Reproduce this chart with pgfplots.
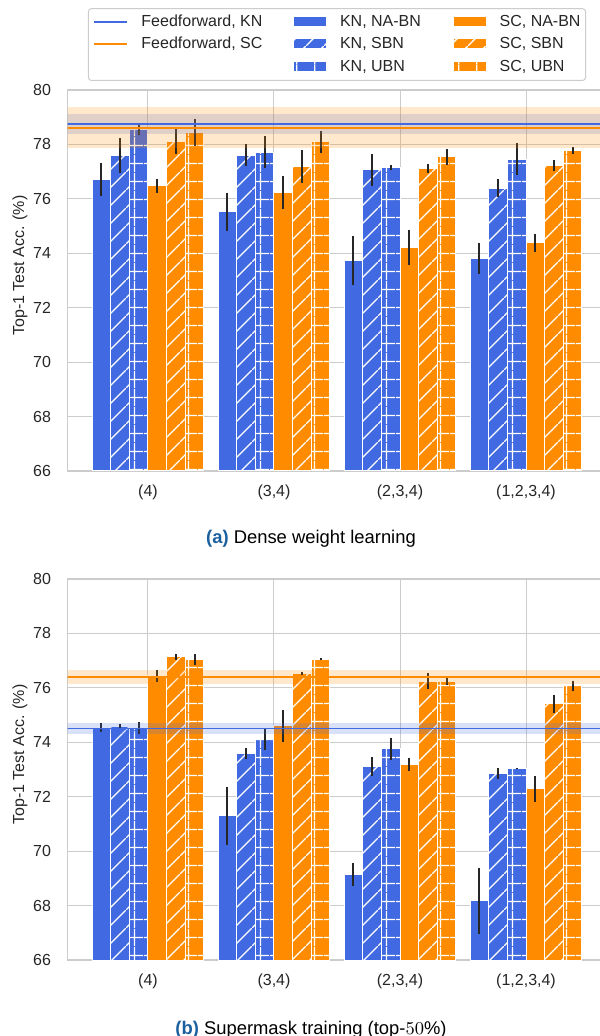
\documentclass[border=0pt]{standalone}
\usepackage{fontspec}
\setmainfont{Liberation Sans}
\usepackage{pgfplots}
\pgfplotsset{compat=1.18}
\usepackage{pgfplotstable}
\usetikzlibrary{patterns.meta}

\definecolor{kn}{RGB}{65,105,225}
\definecolor{sc}{RGB}{255,140,0}
\definecolor{gridgray}{RGB}{204,204,204}
\definecolor{txt}{RGB}{38,38,38}
\definecolor{caplabel}{RGB}{26,95,158}

% hatch patterns for the batch-norm variants
\tikzdeclarepattern{
  name=slashes, type=uncolored,
  bottom left={(0pt,0pt)}, top right={(9pt,9pt)}, tile size={(9pt,9pt)},
  code={\draw[line width=0.7pt] (-1pt,-1pt) -- (10pt,10pt);}
}
\tikzdeclarepattern{
  name=crosses, type=uncolored,
  bottom left={(0pt,0pt)}, top right={(9pt,9pt)}, tile size={(9pt,9pt)},
  code={\draw[line width=0.7pt] (0pt,4.5pt) -- (9pt,4.5pt) (4.5pt,0pt) -- (4.5pt,9pt);}
}

% accuracy (mean, std) per configuration
\pgfplotstableread{
x knna knnae knsbn knsbne knubn knubne scna scnae scsbn scsbne scubn scubne
0 76.72 0.61 77.59 0.64 78.53 0.17 76.48 0.26 78.10 0.46 78.43 0.50
1 75.52 0.69 77.61 0.42 77.71 0.59 76.23 0.60 77.18 0.61 78.09 0.41
2 73.73 0.90 77.06 0.58 77.15 0.09 74.22 0.65 77.12 0.17 77.54 0.30
3 73.81 0.56 76.39 0.33 77.46 0.58 74.39 0.33 77.23 0.20 77.77 0.13
}\densetab

\pgfplotstableread{
x knna knnae knsbn knsbne knubn knubne scna scnae scsbn scsbne scubn scubne
0 74.54 0.18 74.58 0.10 74.51 0.22 76.44 0.23 77.15 0.11 77.05 0.21
1 71.30 1.07 73.59 0.19 74.10 0.39 74.60 0.58 76.52 0.06 77.05 0.03
2 69.13 0.42 73.12 0.35 73.76 0.40 73.18 0.23 76.25 0.31 76.25 0.13
3 68.17 1.22 72.85 0.21 73.04 0.03 72.29 0.47 75.42 0.33 76.07 0.20
}\masktab

\pgfplotsset{
  panel/.style={
    scale only axis, width=269.3pt, height=190.5pt,
    xmin=-0.637, xmax=3.637, ymin=66, ymax=80,
    xtick={0,1,2,3}, xticklabels={(4),(3,4),(2,3,4),(1,2,3,4)},
    ytick={66,68,...,80},
    grid=major, grid style={gridgray, line width=0.5pt},
    axis line style={gridgray, line width=0.6pt},
    major tick length=0pt,
    tick label style={font=\fontsize{8}{9.6}\selectfont, text=txt},
    /pgf/number format/assume math mode=true,
    yticklabel style={xshift=-4.8pt},
    xticklabel style={yshift=-3.6pt},
    ylabel={Top-1 Test Acc. (\%)},
    every axis y label/.style={at={([xshift=-23.85pt]axis description cs:0,0.539)},
      rotate=90, anchor=center, font=\fontsize{8}{9.6}\selectfont, text=txt},
  },
  barbase/.style={ybar, bar width=0.148, bar shift=0pt, draw=white, line width=0.5pt, forget plot,
    error bars/y dir=both, error bars/y explicit, error bars/error mark=none,
    error bars/error bar style={line width=1pt, black!85}},
  band/.style={draw=none, fill=#1, fill opacity=0.2, forget plot},
  ffline/.style={draw=#1, line width=0.9pt, forget plot},
}

% six bars per group, placed side by side around the group position
\newcommand{\drawbars}[1]{%
  \addplot[barbase, fill=kn] table[x expr=\thisrow{x}-0.37, y=knna, y error=knnae] {#1};
  \addplot[barbase, fill=kn, postaction={pattern=slashes, pattern color=white}] table[x expr=\thisrow{x}-0.222, y=knsbn, y error=knsbne] {#1};
  \addplot[barbase, fill=kn, postaction={pattern=crosses, pattern color=white}] table[x expr=\thisrow{x}-0.074, y=knubn, y error=knubne] {#1};
  \addplot[barbase, fill=sc] table[x expr=\thisrow{x}+0.074, y=scna, y error=scnae] {#1};
  \addplot[barbase, fill=sc, postaction={pattern=slashes, pattern color=white}] table[x expr=\thisrow{x}+0.222, y=scsbn, y error=scsbne] {#1};
  \addplot[barbase, fill=sc, postaction={pattern=crosses, pattern color=white}] table[x expr=\thisrow{x}+0.37, y=scubn, y error=scubne] {#1};
}

\begin{document}
\begin{tikzpicture}
% (a) dense weight learning
\begin{axis}[panel, name=top,
  legend columns=3, legend cell align=left,
  legend style={at={(axis description cs:0.5,1)}, anchor=south, yshift=4.5pt,
    draw=gridgray, line width=0.5pt, rounded corners=1.5pt,
    inner xsep=2.5pt, inner ysep=3.1pt, row sep=3.45pt,
    font=\fontsize{8}{9.6}\selectfont, text=txt,
    nodes={inner sep=0pt, text height=6pt, text depth=1.6pt},
    /tikz/every odd column/.append style={column sep=6.5pt},
    /tikz/every even column/.append style={column sep=0pt}},
]
\drawbars{\densetab}
\addplot[band=kn] coordinates {(-1,78.37) (5,78.37) (5,79.13) (-1,79.13)} -- cycle;
\addplot[band=sc] coordinates {(-1,77.86) (5,77.86) (5,79.36) (-1,79.36)} -- cycle;
\addplot[ffline=kn] coordinates {(-1,78.75) (5,78.75)};
\addplot[ffline=sc] coordinates {(-1,78.61) (5,78.61)};

\addlegendimage{legend image code/.code={\draw[draw=kn, line width=1pt] (0pt,0.4pt) -- (16.5pt,0.4pt);}}
\addlegendentry{\makebox[76pt][l]{Feedforward, KN}}
\addlegendimage{legend image code/.code={\draw[sharp corners, fill=kn, draw=white, line width=0.3pt] (0pt,-2.1pt) rectangle (16.5pt,2.9pt);}}
\addlegendentry{\makebox[56.5pt][l]{KN, NA-BN}}
\addlegendimage{legend image code/.code={\draw[sharp corners, fill=sc, draw=white, line width=0.3pt] (0pt,-2.1pt) rectangle (16.5pt,2.9pt);}}
\addlegendentry{SC, NA-BN}
\addlegendimage{legend image code/.code={\draw[draw=sc, line width=1pt] (0pt,0.4pt) -- (16.5pt,0.4pt);}}
\addlegendentry{\makebox[76pt][l]{Feedforward, SC}}
\addlegendimage{legend image code/.code={\draw[sharp corners, fill=kn, draw=white, line width=0.3pt, postaction={pattern=slashes, pattern color=white}] (0pt,-2.1pt) rectangle (16.5pt,2.9pt);}}
\addlegendentry{\makebox[56.5pt][l]{KN, SBN}}
\addlegendimage{legend image code/.code={\draw[sharp corners, fill=sc, draw=white, line width=0.3pt, postaction={pattern=slashes, pattern color=white}] (0pt,-2.1pt) rectangle (16.5pt,2.9pt);}}
\addlegendentry{SC, SBN}
\addlegendimage{empty legend}
\addlegendentry{}
\addlegendimage{legend image code/.code={\draw[sharp corners, fill=kn, draw=white, line width=0.3pt, postaction={pattern=crosses, pattern color=white}] (0pt,-2.1pt) rectangle (16.5pt,2.9pt);}}
\addlegendentry{\makebox[56.5pt][l]{KN, UBN}}
\addlegendimage{legend image code/.code={\draw[sharp corners, fill=sc, draw=white, line width=0.3pt, postaction={pattern=crosses, pattern color=white}] (0pt,-2.1pt) rectangle (16.5pt,2.9pt);}}
\addlegendentry{SC, UBN}
\end{axis}

% (b) supermask training
\begin{axis}[panel, at={(0pt,-244.5pt)}, anchor=south west]
\drawbars{\masktab}
\addplot[band=kn] coordinates {(-1,74.30) (5,74.30) (5,74.72) (-1,74.72)} -- cycle;
\addplot[band=sc] coordinates {(-1,76.14) (5,76.14) (5,76.66) (-1,76.66)} -- cycle;
\addplot[ffline=kn] coordinates {(-1,74.51) (5,74.51)};
\addplot[ffline=sc] coordinates {(-1,76.40) (5,76.40)};
\end{axis}

\node[anchor=base, font=\fontsize{9.2}{11}\selectfont] at (121.65pt,-36.5pt)
  {\textbf{\color{caplabel}(a)} Dense weight learning};
\node[anchor=base, font=\fontsize{9.2}{11}\selectfont] at (121.65pt,-281.5pt)
  {\textbf{\color{caplabel}(b)} Supermask training (top-$50\%$)};

\pgfresetboundingbox
\useasboundingbox (-33.85pt,-282.5pt) rectangle (265.65pt,235.5pt);
\end{tikzpicture}
\end{document}
